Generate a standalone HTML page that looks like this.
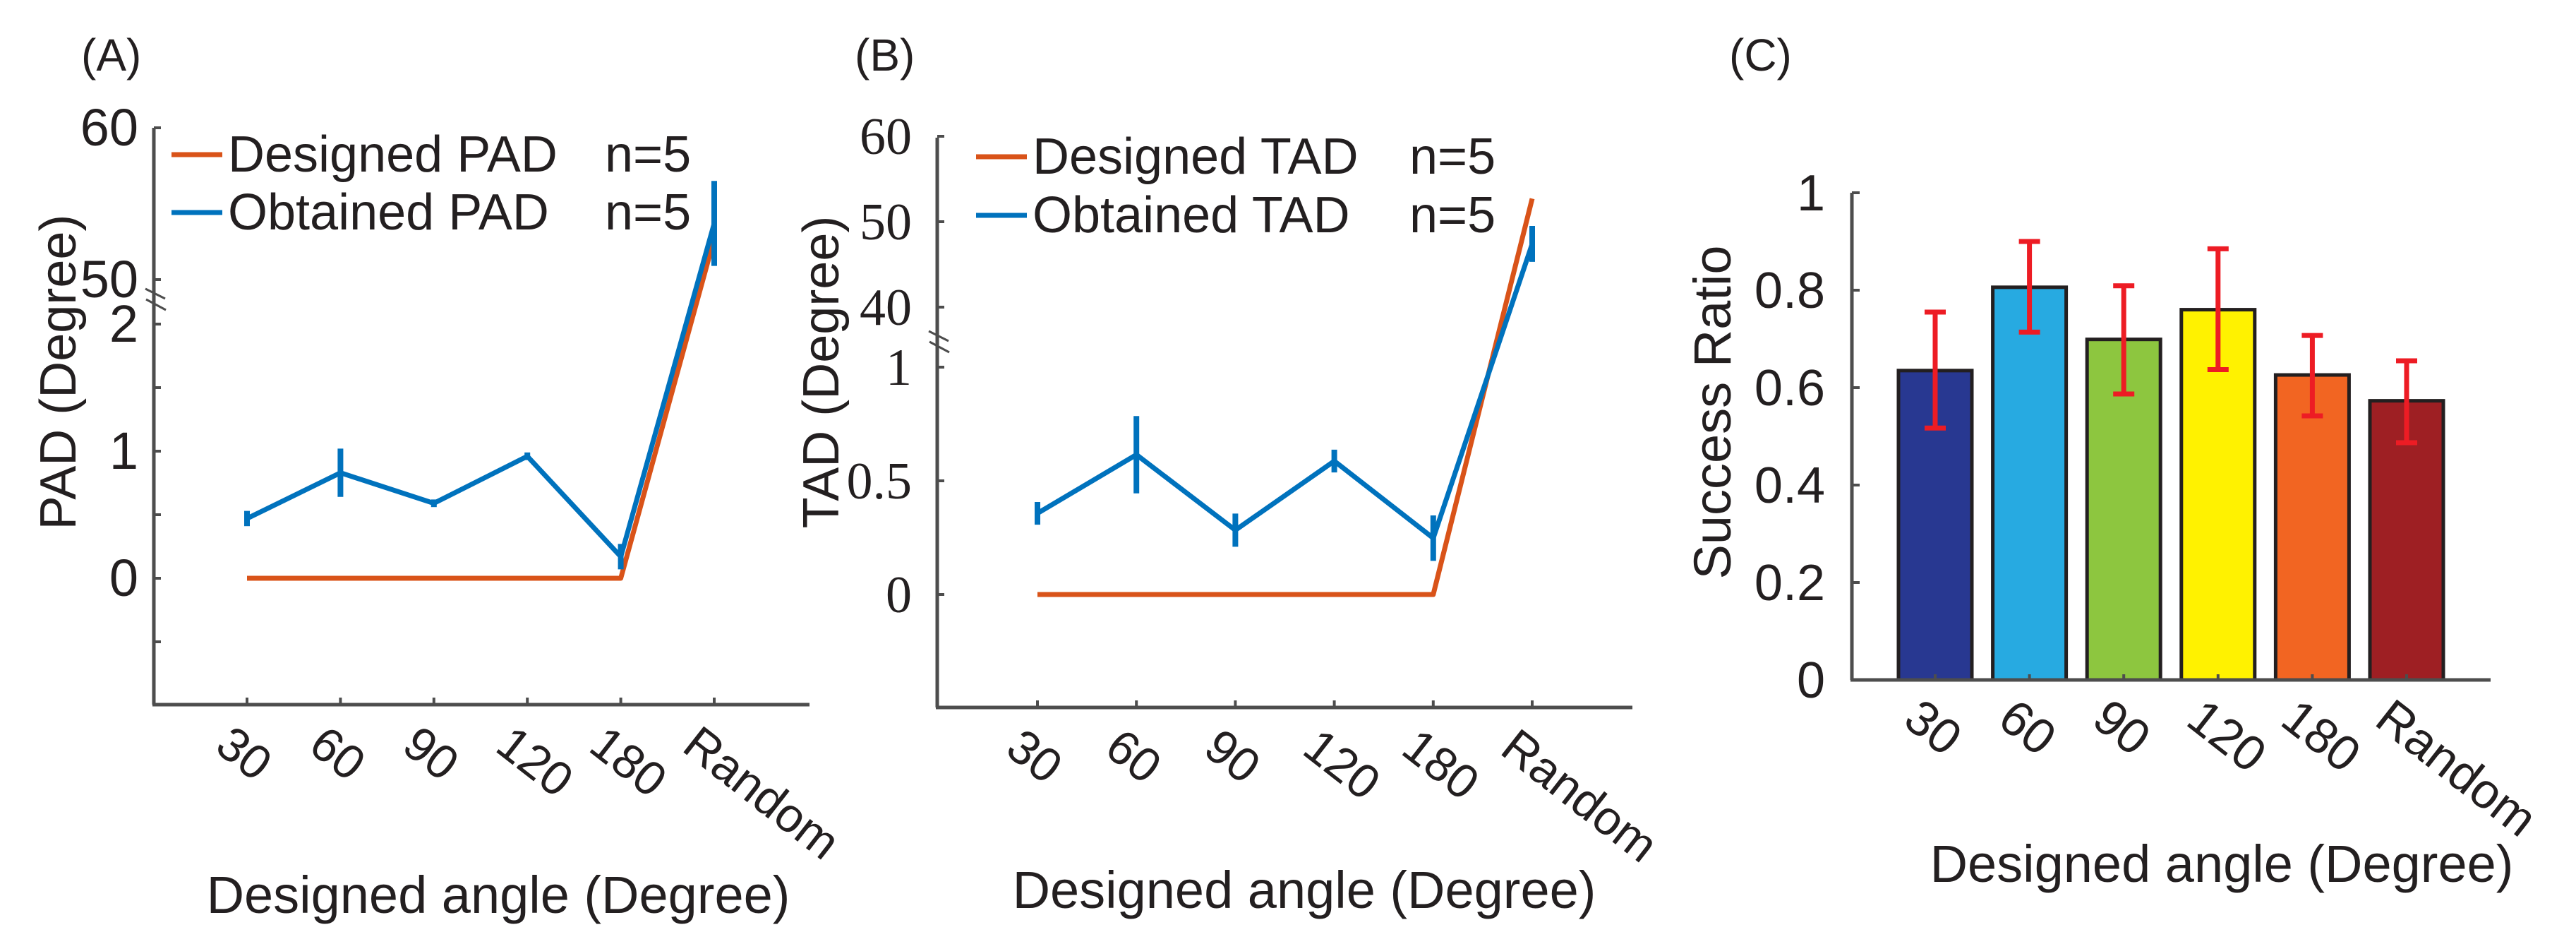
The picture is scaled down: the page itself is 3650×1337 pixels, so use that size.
<!DOCTYPE html>
<html><head><meta charset="utf-8"><style>
html,body{margin:0;padding:0;background:#fff;}
svg{display:block;}
.s{font-family:"Liberation Sans",sans-serif;fill:#231f20;}
.r{font-family:"Liberation Serif",serif;fill:#231f20;}
</style></head><body>
<svg id="fig" width="3650" height="1337" viewBox="0 0 3650 1337" xmlns="http://www.w3.org/2000/svg"></svg>
<script>
const categories = ["30","60","90","120","180","Random"];
const padDesigned = [0,0,0,0,0,52.7];
const padObtained = [0.47,0.83,0.59,0.96,0.17,53.7];
const padErr = [0.06,0.19,0.03,0.03,0.1,2.8];
const tadDesigned = [0,0,0,0,0,52.7];
const tadObtained = [0.357,0.615,0.283,0.587,0.248,47.4];
const tadErr = [0.05,0.17,0.073,0.05,0.1,2.1];
const successRatio = [0.635,0.806,0.699,0.76,0.626,0.573];
const successUpper = [0.755,0.90,0.809,0.885,0.707,0.655];
const successLower = [0.517,0.714,0.587,0.637,0.542,0.487];
const padLowTicks = [0,1,2];
const padLowMinor = [-0.5,0.5,1.5];
const padHighTicks = [50,60];
const tadLowTicks = [0,0.5,1];
const tadLowLabels = ["0","0.5","1"];
const tadHighTicks = [40,50,60];
const srTicks = [0,0.2,0.4,0.6,0.8,1];
const srTickLabels = ["0","0.2","0.4","0.6","0.8","1"];
const barColors = ["#283891","#27AAE1","#8DC63F","#FFF200","#F26522","#9E1F23"];

const NS="http://www.w3.org/2000/svg";
const svg=document.getElementById('fig');
function mk(tag,attrs,parent,text){const e=document.createElementNS(NS,tag);for(const k in attrs)e.setAttribute(k,attrs[k]);if(text!==undefined)e.textContent=text;(parent||svg).appendChild(e);return e;}
const AX="#4d4d4d", OR="#D95319", BL="#0072BD";

function linePanel(o){
  const g=mk('g',{});
  
  
  const xs=i=>o.x0+i*o.dx;
  const y=(v,i)=> i===5 ? o.hiY0-(v-o.hiV0)*o.hiK : o.loY0-v*o.loK;
  let a=mk('line',{x1:o.ax,y1:o.top,x2:o.ax,y2:o.bot,stroke:AX,'stroke-width':5},g);
  
  a=mk('line',{x1:o.ax-2,y1:o.bot,x2:o.axEnd,y2:o.bot,stroke:AX,'stroke-width':5},g);
  
  mk('line',{x1:o.ax-12,y1:o.brk-13,x2:o.ax+16,y2:o.brk+1,stroke:AX,'stroke-width':3},g);
  mk('line',{x1:o.ax-11,y1:o.brk+2,x2:o.ax+17,y2:o.brk+17,stroke:AX,'stroke-width':3},g);
  const tk=(yy,lab)=>{mk('line',{x1:o.ax,y1:yy,x2:o.ax+10,y2:yy,stroke:AX,'stroke-width':4},g);
    if(lab!==null){const t=mk('text',{x:o.ax-o.lgap,y:yy+25,'text-anchor':'end','font-size':o.tfs,class:o.tcls},g,lab);
      }};
  o.lo.forEach((v,i)=>tk(o.loY0-v*o.loK,o.loLab[i]));
  (o.minor||[]).forEach(v=>tk(o.loY0-v*o.loK,null));
  o.hi.forEach(v=>tk(o.hiY0-(v-o.hiV0)*o.hiK,String(v)));
  categories.forEach((c,i)=>{
    mk('line',{x1:xs(i),y1:o.bot,x2:xs(i),y2:o.bot-10,stroke:AX,'stroke-width':4},g);
    const px=xs(i)-48, py=o.bot+64;
    const t=mk('text',{x:px,y:py,'font-size':68,class:'s',transform:`rotate(38 ${px} ${py})`},g,c);
    
  });
  let p=o.des.map((v,i)=>xs(i)+','+y(v,i)).join(' ');
  let l=mk('polyline',{points:p,fill:'none',stroke:OR,'stroke-width':7,'stroke-linejoin':'round'},g);
  
  p=o.obt.map((v,i)=>xs(i)+','+y(v,i)).join(' ');
  l=mk('polyline',{points:p,fill:'none',stroke:BL,'stroke-width':7,'stroke-linejoin':'round'},g);
  
  o.obt.forEach((v,i)=>{
    const e=mk('line',{x1:xs(i),y1:y(v+o.err[i],i),x2:xs(i),y2:y(v-o.err[i],i),stroke:BL,'stroke-width':8},g);
    
  });
  const lg=mk('g',{},g);
  
  [[OR,'Designed '+o.q,o.ly1],[BL,'Obtained '+o.q,o.ly2]].forEach(([col,txt,ly])=>{
    mk('line',{x1:o.lx,y1:ly,x2:o.lx+72,y2:ly,stroke:col,'stroke-width':7},lg);
    const t=mk('text',{x:o.lx+80,y:ly+24,'font-size':72,class:'s'},lg,txt);
    
    mk('text',{x:o.lx+614,y:ly+24,'font-size':72,class:'s'},lg,'n=5');
  });
  let t=mk('text',{x:o.ylx,y:527,'font-size':72,class:'s','text-anchor':'middle',transform:`rotate(-90 ${o.ylx} 527)`},g,o.q+' (Degree)');
  
  t=mk('text',{x:o.xlc,y:o.xlb,'font-size':74,class:'s','text-anchor':'middle'},g,'Designed angle (Degree)');
  
  t=mk('text',{x:o.px,y:100,'font-size':64,class:'s'},g,o.panel);
  
}

linePanel({name:'panel-a-pad-chart',ax:218,top:181,bot:998,axEnd:1147,x0:350,dx:132.4,
  loY0:819,loK:180,hiY0:396,hiV0:50,hiK:21.5,brk:422,lo:padLowTicks,loLab:padLowTicks.map(String),minor:padLowMinor,hi:padHighTicks,
  tfs:74,tcls:'s',lgap:22,des:padDesigned,obt:padObtained,err:padErr,q:'PAD',lx:243,ly1:219,ly2:301,
  ylx:107,xlc:706,xlb:1293,px:115,panel:'(A)'});
linePanel({name:'panel-b-tad-chart',ax:1328,top:195,bot:1002,axEnd:2313,x0:1470,dx:140.2,
  loY0:842,loK:322,hiY0:435,hiV0:40,hiK:12.1,brk:482,lo:tadLowTicks,loLab:tadLowLabels,minor:[],hi:tadHighTicks,
  tfs:74,tcls:'r',lgap:36,des:tadDesigned,obt:tadObtained,err:tadErr,q:'TAD',lx:1383,ly1:222,ly2:305,
  ylx:1188,xlc:1848,xlb:1286,px:1211,panel:'(B)'});

(function(){
  const g=mk('g',{});
  
  
  const ax=2624, y0=963, k=690, x0=2742, dx=133.6, bw=104;
  const y=v=>y0-v*k, xs=i=>x0+i*dx;
  let a=mk('line',{x1:ax,y1:273,x2:ax,y2:y0,stroke:AX,'stroke-width':5},g);
  
  srTicks.forEach((v,i)=>{
    mk('line',{x1:ax,y1:y(v),x2:ax+11,y2:y(v),stroke:AX,'stroke-width':4},g);
    const t=mk('text',{x:2586,y:y(v)+25,'text-anchor':'end','font-size':72,class:'s'},g,srTickLabels[i]);
    
  });
  successRatio.forEach((v,i)=>{
    const b=mk('rect',{x:xs(i)-bw/2,y:y(v),width:bw,height:y0-y(v),fill:barColors[i],stroke:'#231f20','stroke-width':5},g);
    
  });
  a=mk('line',{x1:ax-2,y1:y0,x2:3529,y2:y0,stroke:AX,'stroke-width':5},g);
  
  categories.forEach((c,i)=>{
    mk('line',{x1:xs(i),y1:y0,x2:xs(i),y2:y0-8,stroke:AX,'stroke-width':4},g);
    const e=mk('path',{d:`M${xs(i)} ${y(successUpper[i])}V${y(successLower[i])}M${xs(i)-15} ${y(successUpper[i])}h30M${xs(i)-15} ${y(successLower[i])}h30`,stroke:'#ED1C24','stroke-width':7,fill:'none'},g);
    
    const px=xs(i)-48, py=y0+62;
    const t=mk('text',{x:px,y:py,'font-size':70,class:'s',transform:`rotate(38 ${px} ${py})`},g,c);
    
  });
  let t=mk('text',{x:2452,y:584,'font-size':74,class:'s','text-anchor':'middle',transform:'rotate(-90 2452 584)'},g,'Success Ratio');
  
  t=mk('text',{x:3148,y:1249,'font-size':74,class:'s','text-anchor':'middle'},g,'Designed angle (Degree)');
  
  t=mk('text',{x:2450,y:100,'font-size':64,class:'s'},g,'(C)');
  
})();
</script>
</body></html>
